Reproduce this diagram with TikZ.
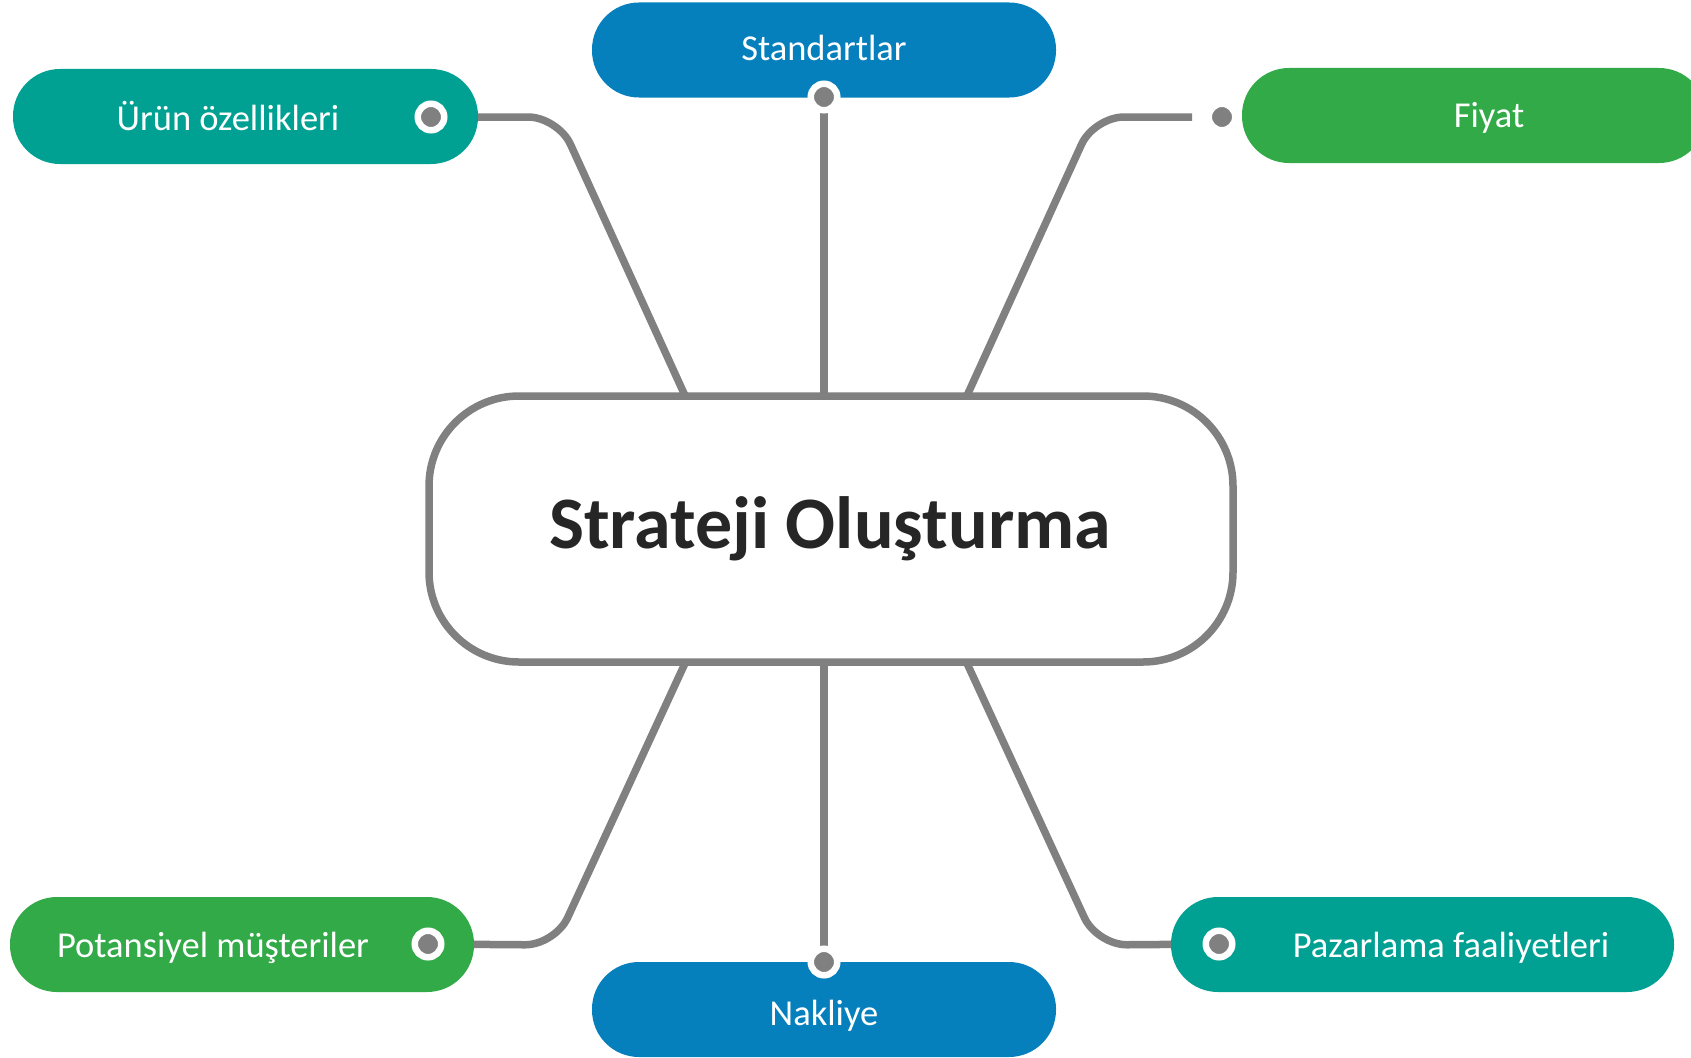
\documentclass[tikz,border=0pt]{standalone}
\usepackage{fontspec}
\setmainfont{Carlito}
\definecolor{cTeal}{RGB}{0,160,146}
\definecolor{cBlue}{RGB}{5,128,188}
\definecolor{cGreen}{RGB}{50,170,72}
\definecolor{cGray}{RGB}{128,128,128}
\definecolor{cText}{RGB}{38,38,38}
\begin{document}
\begin{tikzpicture}[x=1pt,y=-1pt,
  pill/.style={rectangle, rounded corners=47pt, minimum height=95pt, inner sep=0pt, draw=none},
  lbl/.style={anchor=base, text=white, inner sep=0pt, font=\fontsize{36.5}{40}\selectfont},
  mk/.style={circle, fill=cGray, draw=white, line width=6.5pt, minimum size=26.5pt, inner sep=0pt},
  conn/.style={draw=cGray, line width=7.5pt, rounded corners=30pt},
  centerbox/.style={rectangle, rounded corners=90pt, draw=cGray, line width=7.5pt, fill=white, minimum width=804pt, minimum height=266pt, inner sep=0pt}
]
\useasboundingbox (0,0) rectangle (1691,1057);
\clip (0,0) rectangle (1691,1057);
\fill[white] (0,0) rectangle (1691,1057);

% coordinates on the central box
\coordinate (t1) at (687,400);
\coordinate (t2) at (824,400);
\coordinate (t3) at (965,400);
\coordinate (b1) at (687,659);
\coordinate (b2) at (824,659);
\coordinate (b3) at (965,659);
\coordinate (fEnd) at (1192,117);

% marker positions
\path (431,117) coordinate (pU);
\path (824,97) coordinate (pS);
\path (1222,117) coordinate (pF);
\path (428,944) coordinate (pP);
\path (824,962) coordinate (pN);
\path (1219,944) coordinate (pZ);

% connectors
\draw[conn] (pU) -- (558,117) -- (t1);
\draw[conn, rounded corners=0pt] (pS) -- (t2);
\draw[conn] (fEnd) -- (1094,117) -- (t3);
\draw[conn] (pP) -- (555,945) -- (b1);
\draw[conn, rounded corners=0pt] (pN) -- (b2);
\draw[conn] (pZ) -- (1097,945) -- (b3);

% central box
\node[centerbox] (main) at (831,529) {};
\node[anchor=base, inner sep=0pt, text=cText, font=\fontsize{74}{80}\selectfont\bfseries] (mainText) at (830,548) {Strateji Oluşturma};

% branch boxes
\node[pill, fill=cTeal, minimum width=465pt] (uru) at (245.5,116.5) {};
\node[pill, fill=cBlue, minimum width=464pt] (std) at (824,50) {};
\node[pill, fill=cGreen, minimum width=464pt] (fiy) at (1474,115.5) {};
\node[pill, fill=cGreen, minimum width=464pt] (pot) at (242,944.5) {};
\node[pill, fill=cBlue, minimum width=464pt] (nak) at (824,1009.5) {};
\node[pill, fill=cTeal, minimum width=503pt] (paz) at (1422.5,944.5) {};

% labels
\node[lbl] (uruT) at (228,130) {Ürün özellikleri};
\node[lbl] (stdT) at (824,60) {Standartlar};
\node[lbl] (fiyT) at (1489,127) {Fiyat};
\node[lbl] (potT) at (213,957) {Potansiyel müşteriler};
\node[lbl] (nakT) at (824,1025) {Nakliye};
\node[lbl] (pazT) at (1451,957) {Pazarlama faaliyetleri};

% markers
\node[mk] (mU) at (pU) {};
\node[mk] (mS) at (pS) {};
\node[mk] (mF) at (pF) {};
\node[mk] (mP) at (pP) {};
\node[mk] (mN) at (pN) {};
\node[mk] (mZ) at (pZ) {};
\end{tikzpicture}
\end{document}
